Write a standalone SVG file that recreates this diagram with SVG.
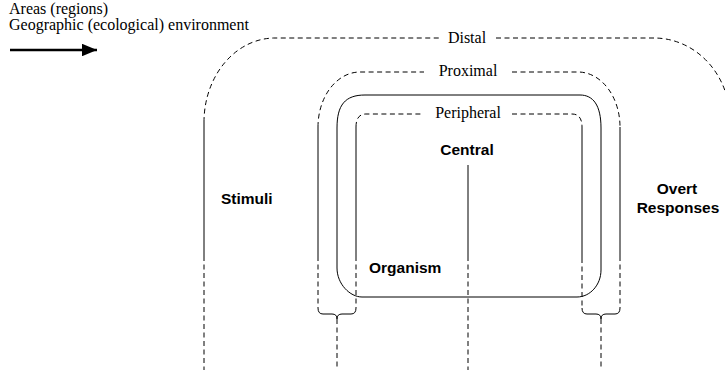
<svg xmlns="http://www.w3.org/2000/svg" width="725" height="370" viewBox="0 0 725 370">
<defs>
<style>
.ln{fill:none;stroke:#000;stroke-width:1}
.ds{fill:none;stroke:#000;stroke-width:1;stroke-dasharray:5 3.5}
.serif{font-family:"Liberation Serif","Times New Roman",serif;font-size:16px;fill:#000}
.bold{font-family:"Liberation Sans",Arial,sans-serif;font-size:15.5px;font-weight:bold;fill:#000}
.mid{text-anchor:middle}
</style>
<marker id="ah" markerWidth="6" markerHeight="5" refX="6" refY="2.5" orient="auto" markerUnits="strokeWidth"><path d="M0,0 L6,2.5 L0,5 Z" fill="#000"/></marker>
</defs>
<rect width="725" height="370" fill="#fff"/>
<g id="legend">
<text class="serif" x="9" y="14">Areas (regions)</text>
<text class="serif" x="9" y="30">Geographic (ecological) environment</text>
<line x1="10" y1="50" x2="97" y2="50" stroke="#000" stroke-width="2.5" marker-end="url(#ah)"/>
</g>
<g id="distal">
<path class="ds" d="M204,122 A71,84 0 0 1 275,38 L440,38"/>
<path class="ds" d="M496,38 L654,38 A76,82 0 0 1 730,120"/>
<path class="ln" d="M204,122 V256"/>
<text class="serif mid" x="467" y="43">Distal</text>
</g>
<g id="proximal">
<path class="ds" d="M318,127 A42,55 0 0 1 360,72 L424,72"/>
<path class="ds" d="M512,72 L578,72 A42,55 0 0 1 620,127"/>
<path class="ln" d="M318,127 V256 M620,127 V256"/>
<text class="serif mid" x="468" y="76">Proximal</text>
</g>
<g id="organism">
<path class="ln" d="M337,128 C337,105 345,95 365,95 L580,95 C593,95 601,105 601,128 L601,270 C601,285 590,297 577,297 L362,297 C350,297 337,284 337,268 Z"/>
<text class="bold" x="369" y="273">Organism</text>
</g>
<g id="peripheral">
<path class="ds" d="M356,127 Q356,114 366,114 L423,114"/>
<path class="ds" d="M512,114 L572,114 Q582,114 582,127"/>
<path class="ln" d="M356,127 V256 M582,127 V258"/>
<text class="serif mid" x="468" y="118">Peripheral</text>
</g>
<g id="central">
<text class="bold mid" x="467" y="155">Central</text>
</g>
<g id="stimuli">
<text class="bold" x="221" y="204">Stimuli</text>
</g>
<g id="overt-responses">
<text class="bold mid" x="677" y="194">Overt</text>
<text class="bold mid" x="678" y="213">Responses</text>
</g>
<g id="connectors">
<path class="ln" d="M468,165 V256"/>
<path class="ds" d="M204,256 V370 M468,256 V370"/>
<path class="ds" d="M318,256 V308 M356,256 V308 M582,258 V308 M620,256 V308"/>
<path class="ln" d="M318,308 Q318,314 323,314 L332,314 Q337,314 337,319 M356,308 Q356,314 351,314 L342,314 Q337,314 337,319"/>
<path class="ln" d="M582,308 Q582,314 587,314 L596,314 Q601,314 601,319 M620,308 Q620,314 615,314 L606,314 Q601,314 601,319"/>
<path class="ds" d="M337,319 V370 M601,319 V370"/>
</g>
</svg>
